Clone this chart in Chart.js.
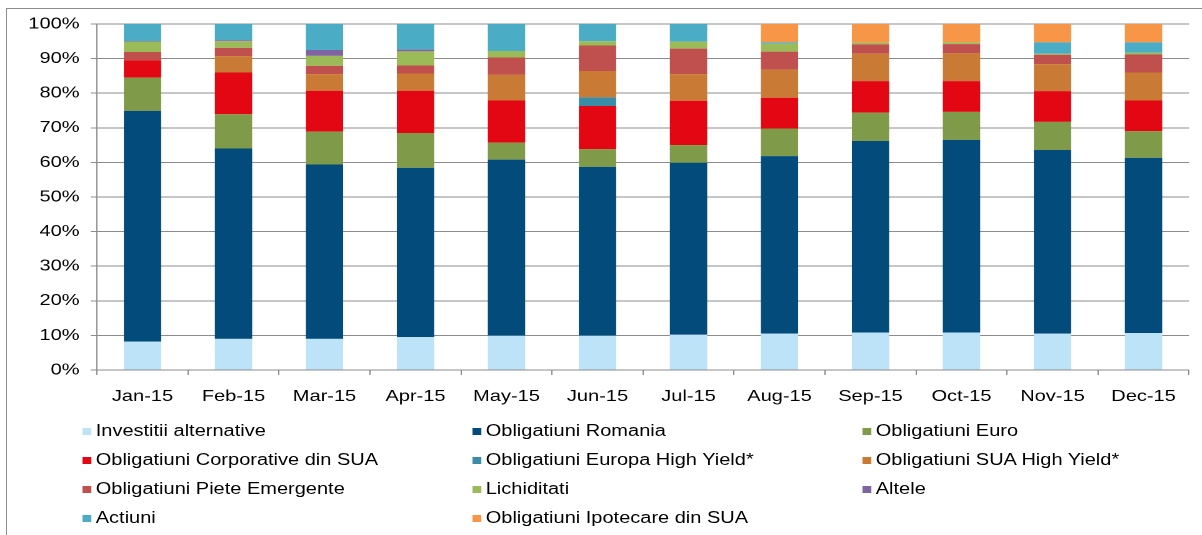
<!DOCTYPE html>
<html>
<head>
<meta charset="utf-8">
<script src="https://cdn.jsdelivr.net/npm/chart.js@4.4.1/dist/chart.umd.min.js"></script>
<style>
  html, body { margin: 0; padding: 0; background: #fff; width: 1202px; height: 535px; overflow: hidden; }
  #wrap { position: absolute; left: 0; top: 0; width: 962px; height: 535px; transform: scaleX(1.25); transform-origin: 0 0; }
  #chartBox { position: absolute; left: 0; top: 0; width: 962px; height: 415px; }
  #frame { position: absolute; left: 6px; top: 8px; width: 1300px; height: 600px; border-left: 1px solid #8c8c8c; border-top: 1px solid #8c8c8c; pointer-events: none; }
  .lg { position: absolute; height: 20px; line-height: 20px; font-family: "Liberation Sans", Arial, sans-serif; font-size: 16px; color: #000; white-space: nowrap; }
  .lg i { position: absolute; left: 0; top: 6.5px; width: 7px; height: 7px; }
  .lg span { position: absolute; left: 11px; top: 0; }
</style>
</head>
<body>
<div id="frame"></div>
<div id="wrap">
  <div id="chartBox"><canvas id="c"></canvas></div>
  <div id="legend"></div>
</div>
<script>
const categories = ["Jan-15","Feb-15","Mar-15","Apr-15","May-15","Jun-15","Jul-15","Aug-15","Sep-15","Oct-15","Nov-15","Dec-15"];
const yTickLabels = ["0%","10%","20%","30%","40%","50%","60%","70%","80%","90%","100%"];

const seriesNames = [
  "Investitii alternative",
  "Obligatiuni Romania",
  "Obligatiuni Euro",
  "Obligatiuni Corporative din SUA",
  "Obligatiuni Europa High Yield*",
  "Obligatiuni SUA High Yield*",
  "Obligatiuni Piete Emergente",
  "Lichiditati",
  "Altele",
  "Actiuni",
  "Obligatiuni Ipotecare din SUA"
];
const seriesColors = ["#BDE3F8","#024B7B","#7F9A48","#E30613","#3A8DA6","#C97B35","#C0504D","#9BBB59","#8064A2","#4BACC6","#F79646"];

const investitiiAlternative = [8.2, 9.0, 9.0, 9.5, 9.9, 9.9, 10.2, 10.5, 10.8, 10.8, 10.5, 10.7];
const obligatiuniRomania    = [66.7, 55.0, 50.4, 48.9, 50.9, 48.8, 49.7, 51.3, 55.4, 55.7, 53.1, 50.6];
const obligatiuniEuro       = [9.6, 9.9, 9.5, 10.1, 4.9, 5.1, 5.1, 8.0, 8.2, 8.1, 8.1, 7.7];
const corporativeSUA        = [5.0, 12.1, 11.8, 12.2, 12.2, 12.5, 12.8, 8.9, 9.1, 8.9, 8.9, 8.9];
const europaHighYield       = [0, 0, 0, 0, 0, 2.5, 0, 0, 0, 0, 0, 0];
const suaHighYield          = [0, 4.7, 4.8, 5.0, 7.4, 7.6, 7.7, 8.1, 7.9, 8.0, 7.8, 8.1];
const pieteEmergente        = [2.4, 2.4, 2.4, 2.3, 5.0, 7.4, 7.4, 5.2, 2.7, 2.7, 2.7, 5.2];
const lichiditati           = [3.0, 1.9, 2.9, 4.1, 1.9, 1.2, 2.0, 2.3, 0.5, 0.5, 0.3, 0.5];
const altele                = [0.2, 0.3, 1.7, 0.5, 0, 0, 0, 0, 0, 0, 0, 0];
const actiuni               = [4.9, 4.7, 7.5, 7.4, 7.8, 5.0, 5.1, 0.4, 0, 0, 3.3, 3.0];
const ipotecareSUA          = [0, 0, 0, 0, 0, 0, 0, 5.3, 5.4, 5.3, 5.3, 5.3];

const seriesValues = [investitiiAlternative, obligatiuniRomania, obligatiuniEuro, corporativeSUA, europaHighYield,
  suaHighYield, pieteEmergente, lichiditati, altele, actiuni, ipotecareSUA];

const FONT = '"Liberation Sans", Arial, sans-serif';
const GRID = '#8c8c8c';

const datasets = seriesNames.map((name, i) => ({
  label: name,
  data: seriesValues[i],
  backgroundColor: seriesColors[i],
  borderWidth: 0,
  categoryPercentage: 1.0,
  barPercentage: 0.41
}));

new Chart(document.getElementById('c'), {
  type: 'bar',
  data: { labels: categories, datasets },
  options: {
    responsive: true,
    maintainAspectRatio: false,
    animation: false,
    devicePixelRatio: 2,
    layout: { padding: { top: 24, right: 10.8, bottom: 0, left: 0 } },
    plugins: { legend: { display: false }, tooltip: { enabled: false } },
    scales: {
      x: {
        stacked: true,
        offset: true,
        grid: { display: true, drawOnChartArea: false, drawTicks: true, tickLength: 5, offset: true, color: GRID, lineWidth: 1 },
        border: { display: true, color: GRID, width: 1 },
        ticks: { color: '#000', font: { family: FONT, size: 16 }, padding: 12, maxRotation: 0, autoSkip: false },
        afterFit: s => { s.height = 45; }
      },
      y: {
        stacked: true,
        min: 0,
        max: 100,
        grid: { color: GRID, lineWidth: 1, drawTicks: true, tickLength: 5 },
        border: { display: true, color: GRID, width: 1 },
        ticks: {
          stepSize: 10,
          color: '#000',
          font: { family: FONT, size: 16 },
          padding: 9,
          callback: (v) => yTickLabels[Math.round(v / 10)]
        },
        afterFit: s => { s.width = 77.6; }
      }
    }
  }
});

// HTML legend (3 columns, row-major), built from the series arrays
const legend = document.getElementById('legend');
const colX = [65.6, 377.6, 689.6];
seriesNames.forEach((name, i) => {
  const row = Math.floor(i / 3), col = i % 3;
  const d = document.createElement('div');
  d.className = 'lg';
  d.style.left = colX[col] + 'px';
  d.style.top = (421 + row * 29) + 'px';
  const sw = document.createElement('i');
  sw.style.background = seriesColors[i];
  const t = document.createElement('span');
  t.textContent = name;
  d.appendChild(sw); d.appendChild(t);
  legend.appendChild(d);
});
</script>
</body>
</html>
